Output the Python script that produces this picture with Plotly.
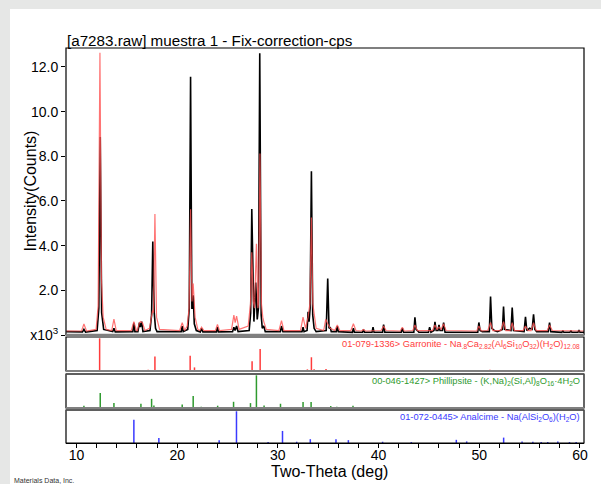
import plotly.graph_objects as go

# ---------------- data ----------------
# observed pattern (black), intensity in x10^3 counts
obs_tt = [9.0, 10.6, 10.74, 10.9, 12.05, 12.22, 12.36, 12.5, 12.7, 13.6, 13.72, 13.85,
          15.6, 15.7, 15.8, 16.1, 16.25, 16.35, 16.48, 16.6, 17.3, 17.46, 17.58, 17.72,
          17.85, 18.0, 20.4, 20.5, 20.6, 21.05, 21.2, 21.33, 21.46, 21.52, 21.59, 21.7,
          21.9, 22.3, 22.42, 22.55, 23.9, 24.0, 24.1, 25.5, 25.63, 25.75, 25.9, 26.05,
          27.15, 27.3, 27.41, 27.53, 27.62, 27.8, 27.95, 28.07, 28.2, 28.34, 28.45, 28.6,
          28.75, 30.25, 30.36, 30.5, 32.4, 32.5, 32.6, 32.9, 33.0, 33.1, 33.2, 33.33,
          33.46, 33.6, 33.8, 34.8, 34.95, 35.08, 35.2, 35.3, 35.8, 35.9, 36.0, 37.4,
          37.5, 37.6, 38.4, 38.5, 38.6, 39.35, 39.45, 39.55, 40.4, 40.5, 40.62, 42.25,
          42.36, 42.48, 43.5, 43.61, 43.72, 43.85, 44.0, 44.95, 45.07, 45.2, 45.5, 45.6,
          45.72, 45.9, 46.0, 46.1, 46.35, 46.46, 46.6, 49.85, 49.96, 50.08, 50.3, 51.0,
          51.12, 51.25, 51.5, 51.8, 52.1, 52.3, 52.41, 52.52, 53.15, 53.27, 53.4, 54.45,
          54.59, 54.72, 55.0, 55.25, 55.39, 55.52, 55.7, 56.85, 56.98, 57.1, 58.2, 58.3,
          58.4, 59.0, 59.1, 59.2, 59.8, 59.9, 60.0, 60.4]
obs_cps = [0.15, 0.14, 0.25, 0.13, 0.2, 1.2, 8.86, 1.0, 0.25, 0.15, 0.3, 0.14,
           0.15, 0.55, 0.15, 0.15, 0.55, 0.35, 0.6, 0.15, 0.2, 0.9, 4.19, 1.0,
           0.3, 0.15, 0.15, 0.4, 0.15, 0.25, 1.2, 11.56, 1.2, 1.2, 1.78, 0.5,
           0.2, 0.14, 0.3, 0.14, 0.14, 0.35, 0.14, 0.15, 0.35, 0.2, 0.4, 0.15,
           0.2, 1.0, 5.64, 1.2, 0.6, 2.35, 0.7, 1.2, 12.61, 0.9, 0.3, 0.4,
           0.15, 0.15, 0.4, 0.15, 0.15, 0.35, 0.15, 0.2, 1.04, 0.6, 1.2, 7.33,
           0.9, 0.3, 0.15, 0.2, 2.53, 0.3, 0.35, 0.15, 0.15, 0.4, 0.15, 0.12,
           0.3, 0.12, 0.12, 0.25, 0.12, 0.12, 0.35, 0.12, 0.12, 0.47, 0.12, 0.12,
           0.3, 0.12, 0.12, 0.79, 0.25, 0.2, 0.12, 0.12, 0.35, 0.12, 0.2, 0.59,
           0.2, 0.2, 0.45, 0.2, 0.2, 0.56, 0.12, 0.12, 0.56, 0.2, 0.15, 0.15,
           1.72, 0.3, 0.2, 0.15, 0.2, 0.25, 1.27, 0.25, 0.2, 1.23, 0.2, 0.15,
           0.81, 0.2, 0.3, 0.25, 0.93, 0.25, 0.15, 0.15, 0.56, 0.15, 0.12, 0.2,
           0.12, 0.12, 0.2, 0.12, 0.12, 0.22, 0.12, 0.12]

# second pattern (red overlay)
ovl_tt = [9.0, 10.5, 10.74, 11.0, 11.95, 12.15, 12.33, 12.48, 12.65, 12.95, 13.5, 13.72,
          13.95, 15.45, 15.7, 15.95, 16.05, 16.25, 16.37, 16.55, 16.8, 17.25, 17.56, 17.65,
          17.79, 17.95, 18.25, 20.25, 20.5, 20.75, 21.0, 21.18, 21.33, 21.47, 21.59, 21.78,
          22.05, 22.25, 22.42, 22.65, 23.8, 24.0, 24.2, 25.4, 25.63, 25.76, 25.9, 26.15,
          27.05, 27.28, 27.41, 27.56, 27.68, 27.87, 28.02, 28.08, 28.22, 28.37, 28.5, 28.6,
          28.85, 30.1, 30.36, 30.6, 32.25, 32.5, 32.75, 33.0, 33.18, 33.33, 33.47, 33.57,
          33.8, 34.55, 34.75, 34.95, 35.2, 35.65, 35.9, 36.15, 37.25, 37.5, 37.75, 38.3,
          38.5, 38.7, 40.25, 40.5, 40.75, 42.15, 42.36, 42.55, 43.4, 43.61, 43.85, 45.35,
          45.6, 45.8, 46.0, 46.2, 46.46, 46.7, 49.75, 49.96, 50.2, 50.85, 51.12, 51.35,
          52.15, 52.41, 52.65, 53.05, 53.27, 53.5, 54.35, 54.59, 54.85, 55.15, 55.39, 55.65,
          56.75, 56.98, 57.25, 60.4]
ovl_cps = [0.18, 0.18, 0.49, 0.18, 0.25, 1.3, 12.64, 2.5, 0.8, 0.25, 0.2, 0.71,
           0.2, 0.2, 0.6, 0.2, 0.2, 0.55, 0.6, 0.55, 0.2, 0.3, 1.1, 1.0,
           5.42, 0.8, 0.25, 0.2, 0.55, 0.2, 0.4, 1.2, 5.63, 1.5, 2.31, 0.8,
           0.25, 0.2, 0.35, 0.2, 0.2, 0.47, 0.2, 0.25, 0.89, 0.55, 0.85, 0.25,
           0.4, 1.4, 3.7, 1.5, 1.2, 4.09, 1.2, 1.4, 8.13, 1.4, 0.8, 0.6,
           0.25, 0.2, 0.64, 0.2, 0.2, 0.8, 0.3, 0.8, 1.4, 5.26, 1.4, 1.0,
           0.3, 0.2, 0.7, 0.5, 0.3, 0.2, 0.45, 0.2, 0.2, 0.5, 0.2, 0.18,
           0.25, 0.18, 0.2, 0.4, 0.2, 0.18, 0.35, 0.18, 0.2, 0.45, 0.2, 0.2,
           0.45, 0.25, 0.35, 0.25, 0.5, 0.2, 0.18, 0.4, 0.18, 0.2, 0.56, 0.2,
           0.2, 0.6, 0.2, 0.2, 0.55, 0.2, 0.2, 0.4, 0.2, 0.2, 0.55, 0.2,
           0.2, 0.45, 0.2, 0.18]

# reference stick patterns (relative intensity, %)
garr_tt = [12.30, 17.12, 17.79, 21.29, 21.72, 24.90, 25.30, 27.44, 28.24, 30.78, 32.93,
           33.33, 33.60, 34.78, 36.99, 38.48, 40.47, 41.80, 43.52, 45.11, 46.77, 48.08,
           49.25, 51.06, 52.22, 53.71, 55.37, 57.02, 58.35, 59.69]
garr_int = [100, 4, 44, 47, 11, 3, 3, 30, 67, 3, 5,
            42, 5, 6, 3, 3, 3, 3, 3, 2, 3, 2,
            2, 4, 2, 3, 2, 2, 3, 2]

phil_tt = [10.74, 12.36, 13.72, 16.40, 17.46, 17.69, 20.50, 21.59, 22.39, 24.02, 25.60,
           27.28, 27.87, 28.63, 30.26, 32.50, 33.30, 35.25, 35.85, 37.46, 40.45]
phil_int = [7, 46, 15, 13, 28, 8, 11, 37, 4, 7, 19,
            15, 100, 8, 13, 18, 18, 6, 4, 7, 3]

anal_tt = [15.70, 18.18, 24.17, 25.89, 29.03, 30.46, 31.87, 33.22, 35.77, 37.00, 40.40,
           43.25, 47.72, 48.75, 52.42, 54.25, 55.32, 56.15, 56.80, 57.80, 58.96, 59.62]
anal_int = [73, 16, 9, 100, 3, 38, 4, 12, 12, 9, 4,
            3, 10, 5, 17, 5, 4, 3, 3, 5, 3, 3]

y_tickvals = [0, 2, 4, 6, 8, 10, 12]
y_ticktext = ["x10<sup>3</sup>", "2.0", "4.0", "6.0", "8.0", "10.0", "12.0"]
x_tickvals = [10, 20, 30, 40, 50, 60]

title_text = "[a7283.raw] muestra 1 - Fix-correction-cps"
x_title = "Two-Theta (deg)"
y_title = "Intensity(Counts)"
garr_label = ("01-079-1336> Garronite - Na<sub>.8</sub>Ca<sub>2.82</sub>(Al<sub>6</sub>"
              "Si<sub>10</sub>O<sub>32</sub>)(H<sub>2</sub>O)<sub>12.08</sub>")
phil_label = ("00-046-1427> Phillipsite - (K,Na)<sub>2</sub>(Si,Al)<sub>8</sub>"
              "O<sub>16</sub>·4H<sub>2</sub>O")
anal_label = "01-072-0445> Analcime - Na(AlSi<sub>2</sub>O<sub>6</sub>)(H<sub>2</sub>O)"

# ---------------- layout geometry ----------------
W, H = 601, 484
ML, MR, MT, MB = 66, 17, 48, 41
PW, PH = W - ML - MR, H - MT - MB


def py2paper(py):
    return (H - MB - py) / PH


def px2paper(px):
    return (px - ML) / PW


dom_main = [py2paper(335), 1.0]
dom_p1 = [py2paper(371), py2paper(337)]
dom_p2 = [py2paper(408), py2paper(374)]
dom_p3 = [0.0, py2paper(410)]

FONT = "Liberation Sans, Arial, sans-serif"


def sticks(tt, val):
    xs, ys = [], []
    for t, v in zip(tt, val):
        xs += [t, t, None]
        ys += [0, v, None]
    return xs, ys


fig = go.Figure()
fig.add_trace(go.Scatter(x=obs_tt, y=obs_cps, mode="lines", xaxis="x", yaxis="y",
                         line=dict(color="black", width=1.6), showlegend=False))
fig.add_trace(go.Scatter(x=ovl_tt, y=ovl_cps, mode="lines", xaxis="x", yaxis="y",
                         line=dict(color="rgba(255,80,80,0.8)", width=1.2), showlegend=False))

for tt, val, col, ax in [(garr_tt, garr_int, "#ff3b3b", "y2"),
                         (phil_tt, phil_int, "#2f9a2f", "y3"),
                         (anal_tt, anal_int, "#3a3aff", "y4")]:
    xs, ys = sticks(tt, val)
    fig.add_trace(go.Scatter(x=xs, y=ys, mode="lines", xaxis="x", yaxis=ax,
                             line=dict(color=col, width=1.5), showlegend=False))

shapes = []
# outer grey strips
shapes.append(dict(type="rect", xref="paper", yref="paper", x0=px2paper(-2), x1=px2paper(10),
                   y0=py2paper(H + 2), y1=py2paper(-2), fillcolor="#e6e7e6", line_width=0,
                   layer="below"))
shapes.append(dict(type="rect", xref="paper", yref="paper", x0=px2paper(-2), x1=px2paper(W + 2),
                   y0=py2paper(9), y1=py2paper(-2), fillcolor="#e6e7e6", line_width=0,
                   layer="below"))
# frames
for d in [dom_main, dom_p1, dom_p2, dom_p3]:
    shapes.append(dict(type="rect", xref="paper", yref="paper", x0=0, x1=1, y0=d[0], y1=d[1],
                       line=dict(color="black", width=1.2)))
shapes.append(dict(type="line", xref="paper", yref="paper", x0=0, x1=1, y0=dom_main[0],
                   y1=dom_main[0], line=dict(color="#808080", width=2.5)))
for d in [dom_p1, dom_p2]:
    shapes.append(dict(type="line", xref="paper", yref="paper", x0=0, x1=1, y0=d[0], y1=d[0],
                       line=dict(color="#808080", width=2.2)))
for d in [dom_p2, dom_p3]:
    shapes.append(dict(type="line", xref="paper", yref="paper", x0=0, x1=1, y0=d[1], y1=d[1],
                       line=dict(color="#555555", width=1.6)))

annotations = [
    dict(text=title_text, xref="paper", yref="paper", x=0, y=1, xanchor="left", yanchor="bottom",
         showarrow=False, font=dict(family=FONT, size=15.2, color="black"), xshift=-1, yshift=-3),
    dict(text=y_title, xref="paper", yref="paper", x=px2paper(30),
         y=(dom_main[0] + dom_main[1]) / 2, xanchor="center", yanchor="middle", textangle=-90,
         showarrow=False, font=dict(family=FONT, size=16, color="black")),
    dict(text=x_title, xref="paper", yref="paper", x=px2paper(329), y=py2paper(471),
         xanchor="center", yanchor="middle", showarrow=False,
         font=dict(family=FONT, size=16, color="black")),
    dict(text="Materials Data, Inc.", xref="paper", yref="paper", x=px2paper(12), y=py2paper(480),
         xanchor="left", yanchor="middle", showarrow=False,
         font=dict(family=FONT, size=7, color="#333333")),
]
for label, d, col in [(garr_label, dom_p1, "#ff3b3b"), (phil_label, dom_p2, "#2f9a2f"),
                      (anal_label, dom_p3, "#3a3aff")]:
    annotations.append(dict(text=label, xref="paper", yref="paper", x=1, y=d[1], xanchor="right",
                            yanchor="top", xshift=-2, yshift=0, showarrow=False,
                            font=dict(family=FONT, size=9.3, color=col)))

panel_y = dict(range=[0, 104], showticklabels=False, ticks="", showgrid=False, zeroline=False,
               showline=False, anchor="x", automargin=False)

fig.update_layout(
    width=W, height=H,
    margin=dict(l=ML, r=MR, t=MT, b=MB, autoexpand=False),
    paper_bgcolor="white", plot_bgcolor="white",
    font=dict(family=FONT, size=14, color="black"),
    xaxis=dict(range=[8.96, 60.4], anchor="y4", tickvals=x_tickvals, ticks="outside",
               ticklen=4, tickcolor="black", showline=True, linecolor="black", linewidth=1.2,
               showgrid=False, zeroline=False, tickfont=dict(size=14), automargin=False,
               ticklabelstandoff=-5,
               minor=dict(dtick=2, tick0=0, ticks="outside", ticklen=4, tickcolor="black")),
    yaxis=dict(domain=dom_main, range=[0, 12.85], anchor="x", tickvals=y_tickvals,
               ticktext=y_ticktext, ticks="outside", ticklen=4, tickcolor="black",
               showgrid=False, zeroline=False, showline=False, tickfont=dict(size=14),
               automargin=False),
    yaxis2=dict(domain=dom_p1, **panel_y),
    yaxis3=dict(domain=dom_p2, **panel_y),
    yaxis4=dict(domain=dom_p3, **panel_y),
    shapes=shapes,
    annotations=annotations,
)

fig.write_html("out.html", config={"displayModeBar": False},
               post_script="document.body.style.margin='0px';")
